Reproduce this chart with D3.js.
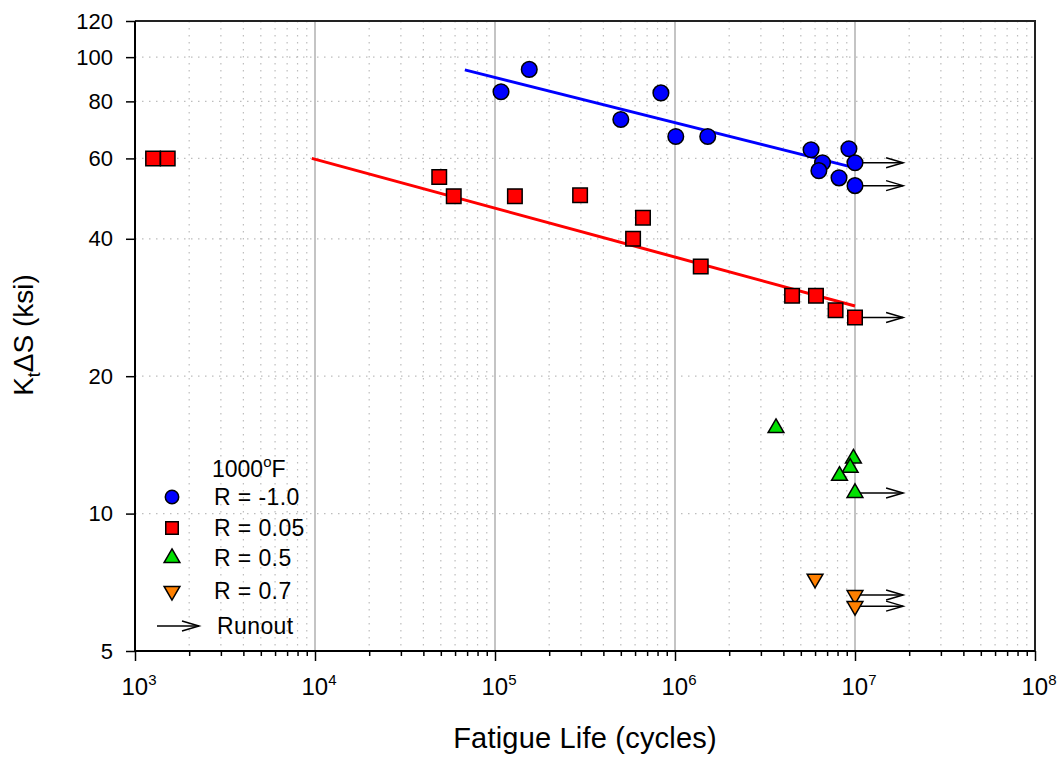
<!DOCTYPE html>
<html><head><meta charset="utf-8">
<script src="https://cdn.jsdelivr.net/npm/d3@7"></script>
<style>body{margin:0;background:#fff}svg{display:block}text{font-family:"Liberation Sans",Arial,sans-serif}</style>
</head><body><svg id="c" width="1060" height="760"></svg>
<script>
// ---- data ----
const yTicks = [5, 10, 20, 40, 60, 80, 100, 120];
const xDecades = [3, 4, 5, 6, 7, 8];
// R = -1.0 (cycles, ksi)
const circN = [1.08e5, 1.55e5, 5.0e5, 8.35e5, 1.01e6, 1.52e6, 5.7e6, 6.6e6, 6.3e6, 8.15e6, 9.25e6, 1.0e7, 1.0e7];
const circS = [84, 94, 73, 83.5, 67, 67, 62.7, 58.7, 56.4, 54.4, 63, 58.7, 52.3];
const circRun = [0,0,0,0,0,0,0,0,0,0,0,1,1];
// R = 0.05
const sqN = [1.26e3, 1.52e3, 4.9e4, 5.9e4, 1.29e5, 2.97e5, 6.64e5, 5.85e5, 1.39e6, 4.47e6, 6.07e6, 7.8e6, 1.0e7];
const sqS = [60, 60, 54.6, 49.6, 49.6, 49.8, 44.5, 40, 34.8, 30, 30, 27.9, 26.9];
const sqRun = [0,0,0,0,0,0,0,0,0,0,0,0,1];
// R = 0.5
const triN = [3.64e6, 9.8e6, 9.4e6, 8.2e6, 1.0e7];
const triS = [15.4, 13.2, 12.6, 12.1, 11.1];
const triRun = [0,0,0,0,1];
// R = 0.7
const dtriN = [6.0e6, 1.0e7, 1.0e7];
const dtriS = [7.2, 6.63, 6.27];
const dtriRun = [0,1,1];
// fit lines
const blueFitN = [6.8e4, 1.0e7], blueFitS = [93.8, 57.2];
const redFitN = [9.6e3, 1.0e7], redFitS = [60, 28.5];
const runoutEndN = 1.85e7;
const legendLabels = ["R = -1.0", "R = 0.05", "R = 0.5", "R = 0.7", "Runout"];

// ---- chart ----
const svg = d3.select("#c");
const L = 135, R = 1035, T = 21, B = 651;
const x = d3.scaleLog().domain([1e3, 1e8]).range([L, R]);
const y = d3.scaleLog().domain([5, 120]).range([B, T]);

const minorX = [];
for (let k = 3; k < 8; k++) for (let m = 2; m <= 9; m++) minorX.push(m * Math.pow(10, k));
const majorX = xDecades.map(d => Math.pow(10, d));

const grid = svg.append("g");
grid.selectAll(".mx").data(minorX).join("line")
  .attr("x1", d => x(d)).attr("x2", d => x(d)).attr("y1", T).attr("y2", B)
  .attr("stroke", "#bdbdbd").attr("stroke-width", 1.2).attr("stroke-dasharray", "1.5,5.5");
grid.selectAll(".hy").data(yTicks.filter(d => d > 5 && d < 120)).join("line")
  .attr("x1", L).attr("x2", R).attr("y1", d => y(d)).attr("y2", d => y(d))
  .attr("stroke", "#bdbdbd").attr("stroke-width", 1.2).attr("stroke-dasharray", "1.5,5.5");
grid.selectAll(".Mx").data(majorX.slice(1, -1)).join("line")
  .attr("x1", d => x(d)).attr("x2", d => x(d)).attr("y1", T).attr("y2", B)
  .attr("stroke", "#c4c4c4").attr("stroke-width", 2);

// frame
svg.append("path").attr("d", `M${L},${T}H${R}V${B}`).attr("fill", "none").attr("stroke", "#222").attr("stroke-width", 2);

// axes
const xAxisMinor = d3.axisBottom(x).tickValues(minorX).tickSize(5).tickFormat("");
const xAxisMajor = d3.axisBottom(x).tickValues(majorX).tickSize(10).tickFormat("");
const gx1 = svg.append("g").attr("transform", `translate(0,${B})`).call(xAxisMinor);
const gx2 = svg.append("g").attr("transform", `translate(0,${B})`).call(xAxisMajor);
[gx1, gx2].forEach(g => { g.select(".domain").attr("stroke", "#000").attr("stroke-width", 2).attr("d", `M${L},0H${R}`); g.selectAll(".tick line").attr("stroke", "#000").attr("stroke-width", 1.5); });

const gy = svg.append("g").attr("transform", `translate(${L},0)`)
  .call(d3.axisLeft(y).tickValues(yTicks).tickSize(9).tickPadding(13).tickFormat(d3.format("d")));
gy.select(".domain").attr("stroke", "#000").attr("stroke-width", 2).attr("d", `M0,${T}V${B}`);
gy.selectAll(".tick line").attr("stroke", "#000").attr("stroke-width", 1.5);
gy.selectAll(".tick text").attr("font-size", 22).attr("fill", "#000").attr("font-family", "Liberation Sans, Arial, sans-serif");

// x tick labels with superscript
const xl = svg.append("g");
xDecades.forEach(d => {
  const t = xl.append("text").attr("x", x(Math.pow(10, d)) + 4).attr("y", 695).attr("text-anchor", "middle").attr("font-size", 24).attr("fill", "#000");
  t.append("tspan").text("10");
  t.append("tspan").attr("font-size", 15).attr("dy", -10).text(d);
});

// axis titles
svg.append("text").attr("x", 585).attr("y", 748).attr("text-anchor", "middle").attr("font-size", 29).attr("letter-spacing", 0.2).text("Fatigue Life (cycles)");
const yt = svg.append("text").attr("transform", "translate(33,335) rotate(-90)").attr("text-anchor", "middle").attr("font-size", 28);
yt.append("tspan").text("K");
yt.append("tspan").attr("font-size", 18).attr("dy", 7).text("t");
yt.append("tspan").attr("dy", -7).text("ΔS (ksi)");

// fit lines
const line = d3.line().x(d => x(d[0])).y(d => y(d[1]));
svg.append("path").attr("d", line(redFitN.map((n, i) => [n, redFitS[i]]))).attr("stroke", "#ff0000").attr("stroke-width", 3).attr("fill", "none");
svg.append("path").attr("d", line(blueFitN.map((n, i) => [n, blueFitS[i]]))).attr("stroke", "#0000ff").attr("stroke-width", 3).attr("fill", "none");

// runout arrows
function arrow(g, x0, x1, yy) {
  g.append("line").attr("x1", x0).attr("x2", x1).attr("y1", yy).attr("y2", yy).attr("stroke", "#000").attr("stroke-width", 1.5);
  g.append("path").attr("d", `M${x1 - 17},${yy - 5}L${x1},${yy}L${x1 - 17},${yy + 5}`).attr("fill", "none").attr("stroke", "#000").attr("stroke-width", 1.5);
}
const arr = svg.append("g");
function runouts(N, S, F) { N.forEach((n, i) => { if (F[i]) arrow(arr, x(n), x(runoutEndN), y(S[i])); }); }
runouts(circN, circS, circRun); runouts(sqN, sqS, sqRun); runouts(triN, triS, triRun); runouts(dtriN, dtriS, dtriRun);

// markers
const sym = {
  circ: d3.symbol().type(d3.symbolCircle).size(Math.PI * 7.8 * 7.8),
  sq: d3.symbol().type(d3.symbolSquare).size(14.5 * 14.5),
  tri: d3.symbol().type(d3.symbolTriangle).size(108)
};
function pts(N, S, path, fill, rot) {
  svg.append("g").selectAll("path").data(N.map((n, i) => [n, S[i]])).join("path")
    .attr("d", path).attr("transform", d => `translate(${x(d[0])},${y(d[1])})${rot ? " rotate(180)" : ""}`)
    .attr("fill", fill).attr("stroke", "#000").attr("stroke-width", 1.5);
}
pts(dtriN, dtriS, sym.tri, "#ff8000", true);
pts(triN, triS, sym.tri, "#00e000", false);
pts(sqN, sqS, sym.sq, "#ff0000", false);
pts(circN, circS, sym.circ, "#0000ff", false);

// legend
const lg = svg.append("g");
const t0 = lg.append("text").attr("x", 212).attr("y", 477).attr("font-size", 23);
t0.append("tspan").text("1000");
t0.append("tspan").attr("font-size", 15).attr("dy", -10).text("o");
t0.append("tspan").attr("dy", 10).text("F");
const ly = [497, 528, 558, 591, 626];
lg.append("path").attr("d", d3.symbol().type(d3.symbolCircle).size(Math.PI * 6.7 * 6.7)).attr("transform", `translate(172,${ly[0]})`).attr("fill", "#0000ff").attr("stroke", "#000").attr("stroke-width", 1.5);
lg.append("path").attr("d", d3.symbol().type(d3.symbolSquare).size(12.5 * 12.5)).attr("transform", `translate(172,${ly[1]})`).attr("fill", "#ff0000").attr("stroke", "#000").attr("stroke-width", 1.5);
lg.append("path").attr("d", sym.tri).attr("transform", `translate(172,${ly[2]})`).attr("fill", "#00e000").attr("stroke", "#000").attr("stroke-width", 1.5);
lg.append("path").attr("d", sym.tri).attr("transform", `translate(172,${ly[3]}) rotate(180)`).attr("fill", "#ff8000").attr("stroke", "#000").attr("stroke-width", 1.5);
arrow(lg, 157, 199, ly[4]);
legendLabels.forEach((s, i) => {
  lg.append("text").attr("x", i === 4 ? 217 : 214).attr("y", ly[i] + 8).attr("font-size", 23).attr("letter-spacing", 0.4).text(s);
});
</script></body></html>
